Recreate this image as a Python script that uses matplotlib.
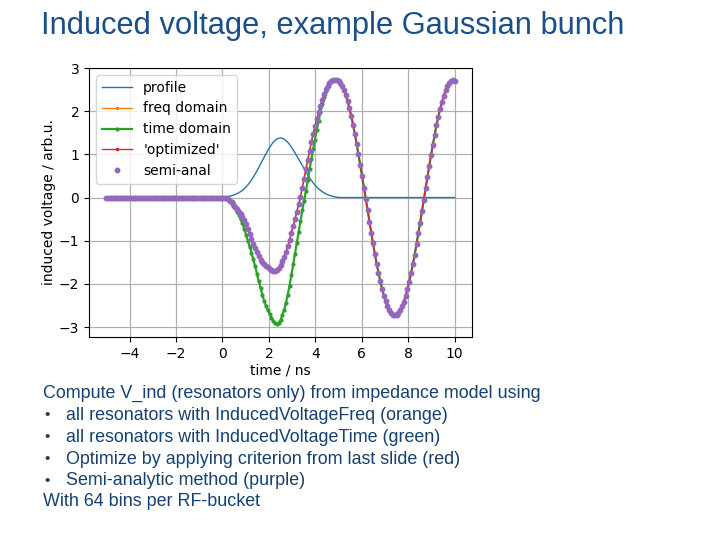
#Induced voltage of a Gaussian bunch: profile plus four ways of computing V_ind
import numpy as np
import matplotlib
matplotlib.use("Agg")
import matplotlib.pyplot as plt

title = "Induced voltage, example Gaussian bunch"
intro = "Compute V_ind (resonators only) from impedance model using"
bullets = ["all resonators with InducedVoltageFreq (orange)",
           "all resonators with InducedVoltageTime (green)",
           "Optimize by applying criterion from last slide (red)",
           "Semi-analytic method (purple)"]
outro = "With 64 bins per RF-bucket"

#64 bins per 5 ns bucket, from -5 ns to 10 ns
time_ns = np.linspace(-5, 10, 193)

before_bunch = [0.0] * 64  #everything sits at zero for t < 0

#bunch profile for 0 <= t <= 5 ns
profile_bunch = [0.010, 0.014, 0.019, 0.025, 0.033, 0.043, 0.055, 0.070, 0.089, 0.111,
                 0.137, 0.168, 0.205, 0.247, 0.294, 0.348, 0.407, 0.472, 0.542, 0.616,
                 0.695, 0.775, 0.857, 0.938, 1.017, 1.092, 1.162, 1.225, 1.279, 1.322,
                 1.354, 1.373, 1.380, 1.373, 1.354, 1.322, 1.280, 1.228, 1.168, 1.102,
                 1.035, 0.962, 0.887, 0.812, 0.738, 0.666, 0.595, 0.526, 0.460, 0.398,
                 0.341, 0.290, 0.244, 0.203, 0.168, 0.137, 0.110, 0.087, 0.067, 0.050,
                 0.036, 0.024, 0.014, 0.007, 0.002]
after_bunch = [0.0] * 64

#'optimized' induced voltage for 0 <= t <= 10 ns
optimized_v = [0.00, -0.01, -0.02, -0.04, -0.07, -0.10, -0.16, -0.21, -0.27, -0.33,
               -0.39, -0.46, -0.53, -0.62, -0.73, -0.85, -0.96, -1.07, -1.18, -1.27,
               -1.36, -1.44, -1.50, -1.55, -1.59, -1.62, -1.65, -1.68, -1.71, -1.71,
               -1.68, -1.63, -1.57, -1.48, -1.38, -1.26, -1.13, -0.98, -0.82, -0.66,
               -0.50, -0.33, -0.16, 0.01, 0.23, 0.44, 0.66, 0.87, 1.08, 1.28,
               1.47, 1.65, 1.82, 1.98, 2.12, 2.26, 2.40, 2.51, 2.59, 2.66,
               2.70, 2.72, 2.73, 2.73, 2.71,
               2.65, 2.58, 2.49, 2.37, 2.23, 2.07, 1.89, 1.69, 1.47, 1.24,
               1.00, 0.75, 0.49, 0.23, -0.03, -0.30, -0.56, -0.81, -1.06, -1.30,
               -1.53, -1.74, -1.93, -2.11, -2.27, -2.40, -2.51, -2.60, -2.67, -2.71,
               -2.72, -2.71, -2.67, -2.61, -2.52, -2.41, -2.28, -2.12, -1.95, -1.75,
               -1.54, -1.32, -1.08, -0.83, -0.58, -0.32, -0.05, 0.21, 0.47, 0.73,
               0.98, 1.22, 1.45, 1.67, 1.87, 2.05, 2.21, 2.35, 2.48, 2.58,
               2.65, 2.70, 2.72, 2.71]

#time domain result, deeper dip during the bunch
time_domain_v = [0.00, -0.01, -0.02, -0.04, -0.08, -0.13, -0.19, -0.25, -0.33, -0.41,
                 -0.50, -0.60, -0.72, -0.86, -1.00, -1.14, -1.28, -1.43, -1.59, -1.76,
                 -1.94, -2.10, -2.25, -2.39, -2.51, -2.61, -2.70, -2.78, -2.85, -2.91,
                 -2.93, -2.90, -2.84, -2.73, -2.60, -2.44, -2.25, -2.04, -1.80, -1.55,
                 -1.30, -1.05, -0.80, -0.55, -0.30, -0.08, 0.15, 0.40, 0.65, 0.89,
                 1.12, 1.34, 1.56, 1.78, 1.98, 2.17, 2.33, 2.47, 2.59, 2.66,
                 2.70, 2.72, 2.73, 2.73, 2.71,
                 2.65, 2.58, 2.49, 2.37, 2.23, 2.07, 1.89, 1.69, 1.47, 1.24,
                 1.00, 0.75, 0.49, 0.23, -0.03, -0.30, -0.56, -0.81, -1.06, -1.30,
                 -1.53, -1.74, -1.93, -2.11, -2.27, -2.40, -2.51, -2.60, -2.67, -2.71,
                 -2.72, -2.71, -2.67, -2.61, -2.52, -2.41, -2.28, -2.12, -1.95, -1.75,
                 -1.54, -1.32, -1.08, -0.83, -0.58, -0.32, -0.05, 0.21, 0.47, 0.73,
                 0.98, 1.22, 1.45, 1.67, 1.87, 2.05, 2.21, 2.35, 2.48, 2.58,
                 2.65, 2.70, 2.72, 2.71]

#freq domain and semi-analytic lie on top of the optimized curve
freq_domain_v = list(optimized_v)
semi_anal_v = list(optimized_v)

profile = before_bunch + profile_bunch + after_bunch
freq_domain = before_bunch + freq_domain_v
time_domain = before_bunch + time_domain_v
optimized = before_bunch + optimized_v
semi_anal = before_bunch + semi_anal_v

title_blue = "#1a4f88"
text_blue = "#16416f"

fig = plt.figure(figsize=(7.2, 5.4), dpi=100)
ax = fig.add_axes([89 / 720, 1 - 337 / 540, 383 / 720, 269 / 540])

ax.plot(time_ns, profile, color="C0", lw=1.0, label="profile")
ax.plot(time_ns, freq_domain, color="C1", lw=1.0, marker="o", ms=1.6, label="freq domain")
ax.plot(time_ns, time_domain, color="C2", lw=1.6, marker="o", ms=2.0, label="time domain")
ax.plot(time_ns, optimized, color="C3", lw=1.0, marker="o", ms=1.6, label="'optimized'")
ax.plot(time_ns, semi_anal, color="C4", ls="none", marker="o", ms=3.2, label="semi-anal")

ax.set_xlim(-5.75, 10.75)
ax.set_ylim(-3.23, 2.99)
ax.set_xticks([-4, -2, 0, 2, 4, 6, 8, 10])
ax.set_yticks([-3, -2, -1, 0, 1, 2, 3])
ax.grid(True, color="#b0b0b0", lw=0.9)
ax.tick_params(labelsize=10)
ax.set_xlabel("time / ns", fontsize=10, labelpad=2)
ax.set_ylabel("induced voltage / arb.u.", fontsize=10, labelpad=2)
ax.legend(loc="upper left", fontsize=10, handlelength=2.2)

fig.text(41 / 720, 1 - 26 / 540, title, fontsize=22.2, color=title_blue,
         family="Liberation Sans", va="center", ha="left")

line_y = [393.5, 415.5, 437, 459, 480.5, 501.5]
fig.text(43 / 720, 1 - line_y[0] / 540, intro, fontsize=12.9, color=text_blue,
         family="Liberation Sans", va="center")
for i, b in enumerate(bullets):
    y = 1 - line_y[i + 1] / 540
    fig.text(44 / 720, y, "\u2022", fontsize=11, color=text_blue,
             family="Liberation Sans", va="center")
    fig.text(66 / 720, y, b, fontsize=12.9, color=text_blue,
             family="Liberation Sans", va="center")
fig.text(43 / 720, 1 - line_y[5] / 540, outro, fontsize=12.9, color=text_blue,
         family="Liberation Sans", va="center")

fig.savefig("out.png", dpi=100)
